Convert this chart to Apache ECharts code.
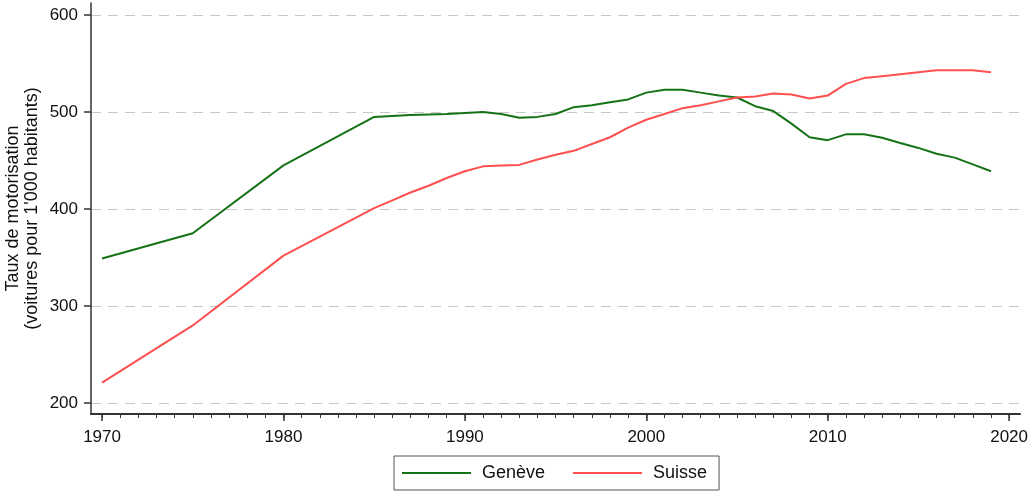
<!DOCTYPE html>
<html>
<head>
<meta charset="utf-8">
<script src="https://cdn.jsdelivr.net/npm/echarts@6/dist/echarts.min.js"></script>
<style>
  html, body { margin: 0; padding: 0; background: #fff; }
  #chart { width: 1031px; height: 491px; }
</style>
</head>
<body>
<div id="chart"></div>
<script>
// Motorisation rate (cars per 1'000 inhabitants), Geneva vs. Switzerland
const years = [1970, 1975, 1980, 1985, 1986, 1987, 1988, 1989, 1990, 1991, 1992, 1993,
  1994, 1995, 1996, 1997, 1998, 1999, 2000, 2001, 2002, 2003, 2004, 2005, 2006, 2007,
  2008, 2009, 2010, 2011, 2012, 2013, 2014, 2015, 2016, 2017, 2018, 2019];
const geneve = [349, 375, 445, 495, 496, 497, 497.5, 498, 499, 500, 498, 494,
  495, 498, 505, 507, 510, 513, 520, 523, 523, 520, 517, 515, 506, 501,
  488, 474, 471, 477, 477, 473.5, 468, 463, 457, 453, 446, 439];
const suisse = [221, 280, 352, 401, 409, 417, 424, 432, 439, 444, 445, 445.5,
  451, 456, 460, 467, 474, 484, 492, 498, 504, 507, 511, 515, 516, 519,
  518, 514, 517, 529, 535, 537, 539, 541, 543, 543, 543, 541];
const xMajorTicks = [1970, 1980, 1990, 2000, 2010, 2020];
const yMajorTicks = [200, 300, 400, 500, 600];
const xMinorTicks = [];
for (let y = 1970; y <= 2020; y++) xMinorTicks.push(y);

const pairs = (vals) => years.map((yr, i) => [yr, vals[i]]);

const FONT = 'Liberation Sans';
const AXIS_COLOR = '#333333';
const GREEN = '#167216';
const RED = '#ff4f4f';

const chart = echarts.init(document.getElementById('chart'), null, { renderer: 'canvas' });
chart.setOption({
  animation: false,
  backgroundColor: '#ffffff',
  textStyle: { fontFamily: FONT },
  grid: { left: 91, right: 11, top: 3, bottom: 77, containLabel: false, outerBoundsMode: 'none' },
  legend: {
    left: 394, top: 456,
    orient: 'horizontal',
    icon: 'rect',
    itemWidth: 69, itemHeight: 2, itemGap: 28,
    padding: [8, 12, 8, 8],
    borderColor: '#555555', borderWidth: 1,
    textStyle: { fontFamily: FONT, fontSize: 18, color: '#111', padding: [0, 0, 0, 6] },
    data: ['Genève', 'Suisse']
  },
  xAxis: [{
    type: 'value', min: 1969.39, max: 2020.6,
    axisLine: { show: true, onZero: false, lineStyle: { color: AXIS_COLOR, width: 2 } },
    axisTick: { show: true, length: 7, customValues: xMajorTicks, lineStyle: { color: AXIS_COLOR, width: 1.5 } },
    axisLabel: { customValues: xMajorTicks, margin: 15, fontFamily: FONT, fontSize: 17, color: '#111',
      formatter: (v) => String(v) },
    splitLine: { show: false }
  }, {
    type: 'value', min: 1969.39, max: 2020.6, position: 'bottom',
    axisLine: { show: false, onZero: false },
    axisTick: { show: true, length: 4, customValues: xMinorTicks, lineStyle: { color: AXIS_COLOR, width: 1 } },
    axisLabel: { show: false },
    splitLine: { show: false }
  }],
  yAxis: {
    type: 'value', min: 188.7, max: 612.4,
    name: 'Taux de motorisation\n(voitures pour 1\'000 habitants)',
    nameLocation: 'middle', nameGap: 49, nameRotate: 90, nameMoveOverlap: false,
    nameTextStyle: { fontFamily: FONT, fontSize: 18, color: '#111', lineHeight: 19 },
    axisLine: { show: true, onZero: false, lineStyle: { color: AXIS_COLOR, width: 1.5 } },
    axisTick: { show: true, length: 7, customValues: yMajorTicks, lineStyle: { color: AXIS_COLOR, width: 1.5 } },
    axisLabel: { customValues: yMajorTicks, margin: 13, fontFamily: FONT, fontSize: 17, color: '#111',
      formatter: (v) => String(v) },
    splitLine: { show: true, lineStyle: { color: '#c8c8c8', width: 1, type: [10, 7] } }
  },
  series: [{
    name: 'Genève', type: 'line', data: pairs(geneve),
    showSymbol: false, symbol: 'none',
    lineStyle: { color: GREEN, width: 2 }, itemStyle: { color: GREEN }
  }, {
    name: 'Suisse', type: 'line', data: pairs(suisse),
    showSymbol: false, symbol: 'none',
    lineStyle: { color: RED, width: 2 }, itemStyle: { color: RED }
  }]
});
</script>
</body>
</html>
